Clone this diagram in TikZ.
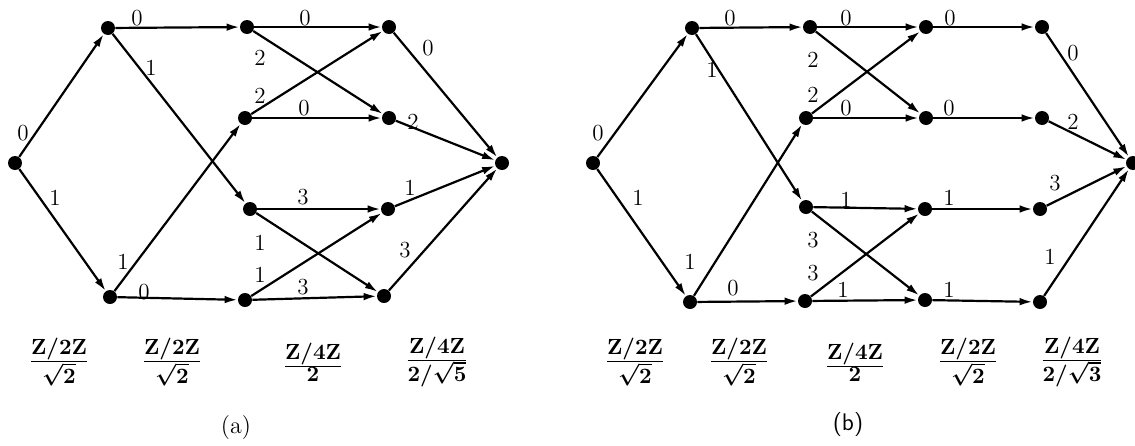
\documentclass[tikz,border=0pt]{standalone}
\usetikzlibrary{arrows.meta}
\newcommand{\zfrac}[2]{$\frac{\textstyle #1}{\textstyle #2}$}
\begin{document}
\begin{tikzpicture}[x=0.5pt,y=-0.5pt,
  dot/.style={circle,fill=black,inner sep=0pt,minimum size=7pt},
  arr/.style={line width=1.1pt,-{Latex[length=6.5pt,width=3.8pt]}},
  lab/.style={font=\fontsize{11.5}{13}\selectfont,inner sep=0pt},
  fracnode/.style={font=\fontsize{10.5}{12}\selectfont\boldmath,inner sep=0pt},
  capnode/.style={font=\fontsize{12}{14}\selectfont,inner sep=0pt}]
\useasboundingbox (0,0) rectangle (1135,445);
% ---------------- (a) ----------------
\node[dot] (aR)  at (15,163) {};
\node[dot] (aT1) at (108,28) {};
\node[dot] (aB1) at (110,297) {};
\node[dot] (aA2) at (247,27) {};
\node[dot] (aB2) at (245,118) {};
\node[dot] (aC2) at (250,209) {};
\node[dot] (aD2) at (245,300) {};
\node[dot] (aA3) at (389,27) {};
\node[dot] (aB3) at (389,118) {};
\node[dot] (aC3) at (388,209) {};
\node[dot] (aD3) at (384,296) {};
\node[dot] (aF)  at (502,163) {};
\draw[arr] (aR) -- (aT1) node[lab] at (23,133) {0};
\draw[arr] (aR) -- (aB1) node[lab] at (55,198) {1};
\draw[arr] (aT1) -- (aA2) node[lab] at (137,18) {0};
\draw[arr] (aT1) -- (aC2) node[lab] at (151,68) {1};
\draw[arr] (aB1) -- (aB2) node[lab] at (123,262) {1};
\draw[arr] (aB1) -- (aD2) node[lab] at (144,292) {0};
\draw[arr] (aA2) -- (aA3) node[lab] at (305,18) {0};
\draw[arr] (aA2) -- (aB3) node[lab] at (260,58) {2};
\draw[arr] (aB2) -- (aA3) node[lab] at (260,96) {2};
\draw[arr] (aB2) -- (aB3) node[lab] at (304,108) {0};
\draw[arr] (aC2) -- (aC3) node[lab] at (303,197) {3};
\draw[arr] (aC2) -- (aD3) node[lab] at (260,243) {1};
\draw[arr] (aD2) -- (aC3) node[lab] at (260,275) {1};
\draw[arr] (aD2) -- (aD3) node[lab] at (303,287) {3};
\draw[arr] (aA3) -- (aF) node[lab] at (428,48) {0};
\draw[arr] (aB3) -- (aF) node[lab] at (413,122) {2};
\draw[arr] (aC3) -- (aF) node[lab] at (410,188) {1};
\draw[arr] (aD3) -- (aF) node[lab] at (405,250) {3};
\node[fracnode] (af1) at (59,362) {\zfrac{\mathbf{Z}/2\mathbf{Z}}{\sqrt{2}}};
\node[fracnode] (af2) at (172,362) {\zfrac{\mathbf{Z}/2\mathbf{Z}}{\sqrt{2}}};
\node[fracnode] (af3) at (313,362) {\zfrac{\mathbf{Z}/4\mathbf{Z}}{2}};
\node[fracnode] (af4) at (437,362) {\zfrac{\mathbf{Z}/4\mathbf{Z}}{2/\sqrt{5}}};
\node[capnode] (acap) at (236,428) {(a)};
% ---------------- (b) ----------------
\node[dot] (bR)  at (593,163) {};
\node[dot] (bT1) at (692,28) {};
\node[dot] (bB1) at (690,302) {};
\node[dot] (bA2) at (810,27) {};
\node[dot] (bB2) at (806,118) {};
\node[dot] (bC2) at (806,207) {};
\node[dot] (bD2) at (805,301) {};
\node[dot] (bA3) at (926,27) {};
\node[dot] (bB3) at (926,118) {};
\node[dot] (bC3) at (925,209) {};
\node[dot] (bD3) at (925,300) {};
\node[dot] (bA4) at (1042,27) {};
\node[dot] (bB4) at (1042,118) {};
\node[dot] (bC4) at (1040,209) {};
\node[dot] (bD4) at (1040,302) {};
\node[dot] (bF)  at (1133,163) {};
\draw[arr] (bR) -- (bT1) node[lab] at (598,133) {0};
\draw[arr] (bR) -- (bB1) node[lab] at (638,198) {1};
\draw[arr] (bT1) -- (bA2) node[lab] at (730,18) {0};
\draw[arr] (bT1) -- (bC2) node[lab] at (712,70) {1};
\draw[arr] (bB1) -- (bB2) node[lab] at (690,262) {1};
\draw[arr] (bB1) -- (bD2) node[lab] at (733,288) {0};
\draw[arr] (bA2) -- (bA3) node[lab] at (846,18) {0};
\draw[arr] (bA2) -- (bB3) node[lab] at (813,60) {2};
\draw[arr] (bB2) -- (bA3) node[lab] at (813,95) {2};
\draw[arr] (bB2) -- (bB3) node[lab] at (846,108) {0};
\draw[arr] (bC2) -- (bC3) node[lab] at (846,200) {1};
\draw[arr] (bC2) -- (bD3) node[lab] at (813,240) {3};
\draw[arr] (bD2) -- (bC3) node[lab] at (813,273) {3};
\draw[arr] (bD2) -- (bD3) node[lab] at (843,290) {1};
\draw[arr] (bA3) -- (bA4) node[lab] at (950,18) {0};
\draw[arr] (bB3) -- (bB4) node[lab] at (949,108) {0};
\draw[arr] (bC3) -- (bC4) node[lab] at (949,198) {1};
\draw[arr] (bD3) -- (bD4) node[lab] at (949,290) {1};
\draw[arr] (bA4) -- (bF) node[lab] at (1073,53) {0};
\draw[arr] (bB4) -- (bF) node[lab] at (1073,122) {2};
\draw[arr] (bC4) -- (bF) node[lab] at (1055,183) {3};
\draw[arr] (bD4) -- (bF) node[lab] at (1050,257) {1};
\node[fracnode] (bf1) at (635,362) {\zfrac{\mathbf{Z}/2\mathbf{Z}}{\sqrt{2}}};
\node[fracnode] (bf2) at (739,362) {\zfrac{\mathbf{Z}/2\mathbf{Z}}{\sqrt{2}}};
\node[fracnode] (bf3) at (855,362) {\zfrac{\mathbf{Z}/4\mathbf{Z}}{2}};
\node[fracnode] (bf4) at (968,362) {\zfrac{\mathbf{Z}/2\mathbf{Z}}{\sqrt{2}}};
\node[fracnode] (bf5) at (1072,362) {\zfrac{\mathbf{Z}/4\mathbf{Z}}{2/\sqrt{3}}};
\node[capnode,font=\fontsize{12}{14}\selectfont\sffamily] (bcap) at (848,425) {(b)};
\end{tikzpicture}
\end{document}
